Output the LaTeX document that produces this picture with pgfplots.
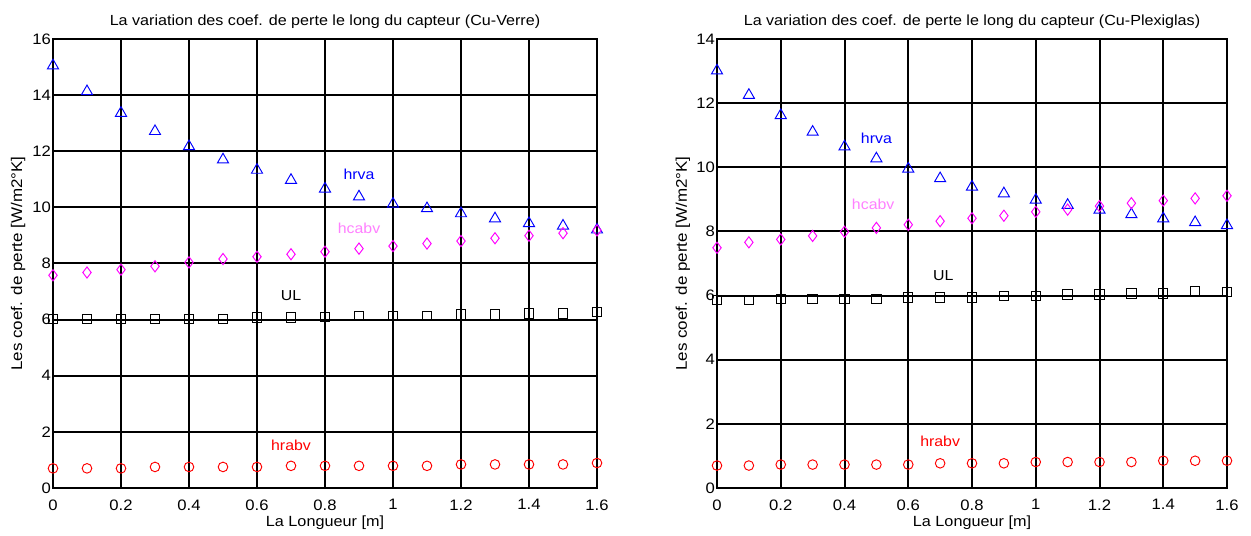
\documentclass[border=0pt]{standalone}
\usepackage{fontspec}
\setmainfont{Liberation Sans}[FakeStretch=1.1]
\usepackage{pgfplots}
\pgfplotsset{compat=1.18}
\definecolor{cblue}{RGB}{0,0,255}
\definecolor{cmag}{RGB}{255,0,255}
\definecolor{cpink}{RGB}{255,128,255}
\definecolor{cred}{RGB}{255,0,0}
\tikzset{lab/.style={font=\fontsize{14.5}{17}\selectfont, inner sep=0pt}}
\pgfplotsset{
  mystyle/.style={
    scale only axis,
    anchor=south west,
    height=449bp,
    xmin=0, xmax=1.6, ymin=0,
    xtick={0,0.2,0.4,0.6,0.8,1,1.2,1.4,1.6},
    xticklabels={0,0.2,0.4,0.6,0.8,1,1.2,1.4,1.6},
    grid=major,
    major grid style={black, line width=2bp},
    axis line style={black, line width=2bp},
    major tick length=0pt,
    tick style={draw=none},
    /pgf/number format/assume math mode=true,
    every tick label/.append style={font=\fontsize{15.2}{18}\selectfont},
    xticklabel shift=8bp,
    yticklabel style={inner sep=2bp},
    title style={font=\fontsize{14.7}{17}\selectfont, yshift=1bp},
    xlabel style={font=\fontsize{14.8}{18}\selectfont, yshift=1bp},
    ylabel style={font=\fontsize{15.5}{18}\selectfont, anchor=center},
    xlabel={La Longueur [m]},
    ylabel={Les coef. de perte [W/m2°K]},
    only marks,
  },
  hrva/.style={mark=triangle, mark size=6.4bp, cblue, mark options={line width=0.95bp, fill=none}},
  hcabv/.style={mark=diamond, mark size=5.6bp, cmag, mark options={line width=0.95bp, fill=none}},
  ul/.style={mark=square, mark size=4.7bp, black, mark options={line width=0.95bp, fill=none}},
  hrabv/.style={mark=o, mark size=4.8bp, cred, mark options={line width=0.95bp, fill=none}},
}
\begin{document}
\begin{tikzpicture}
\path[use as bounding box] (0,0) rectangle (1251bp,536bp);
% ---------- Left: Cu-Verre ----------
\begin{axis}[mystyle, at={(53bp,48bp)}, width=544bp, ymax=16,
  ytick={0,2,4,6,8,10,12,14,16},
  title={La variation des coef. de perte le long du capteur (Cu-Verre)},
  ylabel style={at={(rel axis cs:-0.064,0.5)}}]
\addplot[hrva] coordinates {
(0,15.05) (0.1,14.13) (0.2,13.36) (0.3,12.71) (0.4,12.17) (0.5,11.70) (0.6,11.33)
(0.7,10.97) (0.8,10.66) (0.9,10.38) (1.0,10.12) (1.1,9.96) (1.2,9.78) (1.3,9.60)
(1.4,9.43) (1.5,9.34) (1.6,9.20)};
\addplot[hcabv] coordinates {
(0,7.58) (0.1,7.68) (0.2,7.78) (0.3,7.90) (0.4,8.04) (0.5,8.16) (0.6,8.24)
(0.7,8.33) (0.8,8.42) (0.9,8.53) (1.0,8.62) (1.1,8.71) (1.2,8.80) (1.3,8.90)
(1.4,8.99) (1.5,9.08) (1.6,9.18)};
\addplot[ul] coordinates {
(0,6.03) (0.1,6.03) (0.2,6.03) (0.3,6.03) (0.4,6.03) (0.5,6.03) (0.6,6.08)
(0.7,6.08) (0.8,6.09) (0.9,6.13) (1.0,6.13) (1.1,6.13) (1.2,6.18) (1.3,6.18)
(1.4,6.22) (1.5,6.22) (1.6,6.27)};
\addplot[hrabv] coordinates {
(0,0.70) (0.1,0.70) (0.2,0.70) (0.3,0.75) (0.4,0.75) (0.5,0.75) (0.6,0.75)
(0.7,0.79) (0.8,0.79) (0.9,0.79) (1.0,0.79) (1.1,0.79) (1.2,0.84) (1.3,0.84)
(1.4,0.84) (1.5,0.84) (1.6,0.89)};
\node[lab, text=cblue] at (axis cs:0.9,11.17) {hrva};
\node[lab, text=cpink] at (axis cs:0.9,9.24) {hcabv};
\node[lab, text=black] at (axis cs:0.70,6.86) {UL};
\node[lab, text=cred] at (axis cs:0.70,1.51) {hrabv};
\end{axis}
% ---------- Right: Cu-Plexiglas ----------
\begin{axis}[mystyle, at={(717bp,48bp)}, width=510bp, ymax=14,
  ytick={0,2,4,6,8,10,12,14},
  title={La variation des coef. de perte le long du capteur (Cu-Plexiglas)},
  ylabel style={at={(rel axis cs:-0.067,0.5)}}]
\addplot[hrva] coordinates {
(0,13.01) (0.1,12.25) (0.2,11.62) (0.3,11.10) (0.4,10.64) (0.5,10.27) (0.6,9.95)
(0.7,9.65) (0.8,9.39) (0.9,9.18) (1.0,8.98) (1.1,8.82) (1.2,8.67) (1.3,8.53)
(1.4,8.40) (1.5,8.28) (1.6,8.19)};
\addplot[hcabv] coordinates {
(0,7.49) (0.1,7.66) (0.2,7.75) (0.3,7.86) (0.4,7.99) (0.5,8.11) (0.6,8.21)
(0.7,8.32) (0.8,8.41) (0.9,8.49) (1.0,8.61) (1.1,8.68) (1.2,8.79) (1.3,8.88)
(1.4,8.96) (1.5,9.03) (1.6,9.11)};
\addplot[ul] coordinates {
(0,5.86) (0.1,5.86) (0.2,5.90) (0.3,5.90) (0.4,5.90) (0.5,5.90) (0.6,5.94)
(0.7,5.94) (0.8,5.94) (0.9,5.99) (1.0,5.99) (1.1,6.03) (1.2,6.03) (1.3,6.07)
(1.4,6.07) (1.5,6.13) (1.6,6.11)};
\addplot[hrabv] coordinates {
(0,0.70) (0.1,0.70) (0.2,0.73) (0.3,0.73) (0.4,0.73) (0.5,0.73) (0.6,0.73)
(0.7,0.77) (0.8,0.77) (0.9,0.77) (1.0,0.81) (1.1,0.81) (1.2,0.81) (1.3,0.81)
(1.4,0.85) (1.5,0.85) (1.6,0.85)};
\node[lab, text=cblue] at (axis cs:0.50,10.9) {hrva};
\node[lab, text=cpink] at (axis cs:0.49,8.84) {hcabv};
\node[lab, text=black] at (axis cs:0.71,6.61) {UL};
\node[lab, text=cred] at (axis cs:0.70,1.45) {hrabv};
\end{axis}
\end{tikzpicture}
\end{document}
